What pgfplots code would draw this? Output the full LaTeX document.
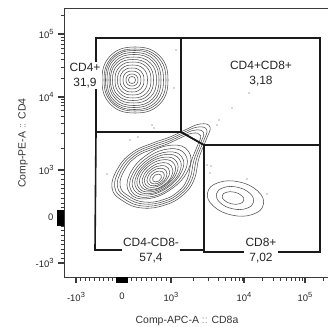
\documentclass[border=0pt]{standalone}
\usepackage{fontspec}
\setmainfont{Liberation Sans}
\usepackage{pgfplots}
\pgfplotsset{compat=1.18}

\definecolor{gateline}{HTML}{1A1A1A}
\definecolor{ctrline}{HTML}{505050}
\definecolor{axisgray}{HTML}{3A3A3A}
\definecolor{dotgray}{HTML}{777777}

% decade label: 10 with a raised exponent
\newcommand\dec[1]{10\raisebox{4.2bp}{\fontsize{7.5}{8}\selectfont #1}}

% Display scale is biexponential: positions below are display units,
% ticks carry the data values (-10^3, 0, 10^3, 10^4, 10^5).
\begin{document}
\begin{tikzpicture}
\path[use as bounding box, clip] (0,0) rectangle (328bp,327bp);
\begin{axis}[
  at={(64bp,50bp)}, anchor=south west,
  x=1bp, y=1bp,
  xmin=64, xmax=332, ymin=50, ymax=319,
  clip=false,
  axis line style={axisgray, line width=0.9bp},
  tick align=outside,
  xtick pos=bottom, ytick pos=left,
  xtick={76,122,171,244,305},
  xticklabels={-\dec{3},0,\dec{3},\dec{4},\dec{5}},
  minor xtick={80.6,85.2,89.8,94.4,99,103.6,108.2,112.8,117.4,126.9,131.8,136.7,141.6,146.5,151.4,156.3,161.2,166.1,193,208,218,225,231,235.5,239,242,262.4,273.1,280.7,286.6,291.5,295.5,299.1,302.2,323.4},
  ytick={64,110,157,230,293},
  yticklabels={-\dec{3},0,\dec{3},\dec{4},\dec{5}},
  minor ytick={68.6,73.2,77.8,82.4,87,91.6,96.2,100.8,105.4,114.7,119.4,124.1,128.8,133.5,138.2,142.9,147.6,152.3,179,194,204,211,217,221.5,225,228,249,260,268,274,279,283,286.5,290,312},
  major tick length=6bp,
  minor tick length=3.5bp,
  major tick style={axisgray, line width=1.4bp},
  minor tick style={axisgray, line width=0.7bp},
  tick label style={font=\fontsize{9.5}{10}\selectfont, text=black!85},
  xticklabel style={yshift=-6bp},
  yticklabel style={xshift=-1bp},
  extra x ticks={117,118,119,120,121,122,123,124,125,126,127},
  extra x tick labels={},
  extra x tick style={major tick length=5.5bp, major tick style={black, line width=1.1bp}},
  extra y ticks={102,103,104,105,106,107,108,109,110,111,112,113,114,115,116},
  extra y tick labels={},
  extra y tick style={major tick length=6.5bp, major tick style={black, line width=1.1bp}},
  ctr/.style={ctrline, line width=0.55bp, smooth cycle, tension=0.75},
  gate/.style={gateline, line width=1.6bp, line join=miter},
]

% ---------- CD4+ population ----------
\addplot[ctr] coordinates {(168,247)(159.4,271.4)(135,280)(110.6,271.4)(102,247)(110.6,222.6)(135,214)(159.4,222.6)};
\addplot[ctr] coordinates {(166,247)(157.9,269.9)(135,278)(112.1,269.9)(104,247)(112.1,224.1)(135,216)(157.9,224.1)};
\addplot[ctr] coordinates {(163.5,247)(156,268.8)(134.5,276.5)(113,268.8)(105.5,247)(113,225.2)(134.5,217.5)(156,225.2)};
\addplot[ctr] coordinates {(161,247)(154,267.4)(134,274.5)(114,267.4)(107,247)(114,226.6)(134,219.5)(154,226.6)};
\addplot[ctr] coordinates {(159,247)(152.5,265.9)(134,272.5)(115.5,265.9)(109,247)(115.5,228.1)(134,221.5)(152.5,228.1)};
\addplot[ctr] coordinates {(156.5,247)(150.5,264)(133.5,270)(116.5,264)(110.5,247)(116.5,230)(133.5,224)(150.5,230)};
\addplot[ctr] coordinates {(153.5,247)(148.2,262.2)(133,267.5)(117.8,262.2)(112.5,247)(117.8,231.8)(133,226.5)(148.2,231.8)};
\addplot[ctr] coordinates {(151,247)(146.3,260.3)(133,265)(119.7,260.3)(115,247)(119.7,233.7)(133,229)(146.3,233.7)};
\addplot[ctr] coordinates {(147.5,247)(143.6,258.1)(132.5,262)(121.4,258.1)(117.5,247)(121.4,235.9)(132.5,232)(143.6,235.9)};
\addplot[ctr] coordinates {(144,247)(140.9,255.9)(132,259)(123.1,255.9)(120,247)(123.1,238.1)(132,235)(140.9,238.1)};
\addplot[ctr] coordinates {(141,247)(138.7,253.7)(132,256)(125.3,253.7)(123,247)(125.3,240.3)(132,238)(138.7,240.3)};
\addplot[ctr] coordinates {(138,247)(136.4,251.4)(132,253)(127.6,251.4)(126,247)(127.6,242.6)(132,241)(136.4,242.6)};
\addplot[ctr] coordinates {(135.5,247)(134.6,249.6)(132,250.5)(129.4,249.6)(128.5,247)(129.4,244.4)(132,243.5)(134.6,244.4)};

% ---------- CD4-CD8- population (outer rings reach towards the double positives) ----------
\addplot[ctr] coordinates {(112,139)(118,159)(133,175)(153,184)(170,190)(185,197)(200,203)(210,200)(206,187)(199,169)(194,147)(183,132)(165,122)(142,119)(123,126)};
\addplot[ctr] coordinates {(114.7,139.8)(120.3,158.6)(134.4,173.6)(153.2,182.1)(169.2,187.7)(183.3,194.3)(197.4,199.9)(206.8,197.1)(203.1,184.9)(196.5,168.0)(191.8,147.3)(181.4,133.2)(164.5,123.8)(142.9,121.0)(125.0,127.6)};
\addplot[ctr] coordinates {(117.4,140.6)(122.7,158.2)(135.9,172.2)(153.5,180.2)(168.4,185.4)(181.6,191.6)(194.8,196.9)(203.6,194.2)(200.1,182.8)(194.0,167.0)(189.6,147.6)(179.9,134.4)(164.0,125.6)(143.8,123.0)(127.1,129.1)};
\addplot[ctr] coordinates {(120.1,141.3)(125.0,157.7)(137.3,170.9)(153.7,178.2)(167.7,183.2)(180.0,188.9)(192.3,193.8)(200.5,191.4)(197.2,180.7)(191.4,165.9)(187.3,147.9)(178.3,135.6)(163.6,127.4)(144.7,124.9)(129.1,130.7)};
\addplot[ctr] coordinates {(188.5,175.7)(171.3,181.8)(146.9,172.2)(129.7,152.6)(129.5,134.3)(146.7,128.2)(171.1,137.8)(188.3,157.4)};
\addplot[ctr] coordinates {(185.1,172.7)(169.6,178.2)(147.6,169.6)(132.0,151.8)(131.9,135.3)(147.4,129.8)(169.4,138.4)(185.0,156.2)};
\addplot[ctr] coordinates {(181.8,170.1)(167.9,175.1)(148.2,167.4)(134.3,151.5)(134.2,136.9)(148.1,131.9)(167.8,139.6)(181.7,155.5)};
\addplot[ctr] coordinates {(179.3,167.9)(166.8,172.6)(149.1,165.7)(136.6,151.4)(136.7,138.1)(149.2,133.4)(166.9,140.3)(179.4,154.6)};
\addplot[ctr] coordinates {(176.3,165.7)(165.1,169.9)(149.5,164.0)(138.5,151.3)(138.7,139.3)(149.9,135.1)(165.5,141.0)(176.5,153.7)};
\addplot[ctr] coordinates {(173.9,163.5)(164.0,167.3)(150.3,162.2)(140.8,151.1)(141.1,140.5)(151.0,136.7)(164.7,141.8)(174.2,152.9)};
\addplot[ctr] coordinates {(171.4,160.8)(162.8,164.3)(151.2,160.0)(143.2,150.5)(143.6,141.2)(152.2,137.7)(163.8,142.0)(171.8,151.5)};
\addplot[ctr] coordinates {(168.5,158.5)(161.4,161.4)(151.8,157.9)(145.2,150.0)(145.5,142.5)(152.6,139.6)(162.2,143.1)(168.8,151.0)};
\addplot[ctr] coordinates {(166.0,156.3)(160.4,158.8)(152.7,156.1)(147.6,149.8)(148.0,143.7)(153.6,141.2)(161.3,143.9)(166.4,150.2)};
\addplot[ctr] coordinates {(163.6,154.1)(159.4,155.9)(153.8,154.0)(150.2,149.5)(150.4,144.9)(154.6,143.1)(160.2,145.0)(163.8,149.5)};
\addplot[ctr] coordinates {(161.1,151.9)(158.5,153.0)(155.0,151.9)(152.7,149.0)(152.9,146.1)(155.5,145.0)(159.0,146.1)(161.3,149.0)};

% ---------- CD8+ population ----------
\addplot[ctr] coordinates {(263.4,122.6)(257.7,136.0)(239.0,145.1)(218.3,144.4)(207.6,134.4)(213.3,121.0)(232.0,111.9)(252.7,112.6)};
\addplot[ctr] coordinates {(253.6,125.0)(249.7,133.8)(237.3,139.8)(223.5,139.4)(216.4,133.0)(220.3,124.2)(232.7,118.2)(246.5,118.6)};
\addplot[ctr] coordinates {(243.8,126.7)(241.5,131.5)(234.2,134.9)(226.3,134.7)(222.2,131.3)(224.5,126.5)(231.8,123.1)(239.7,123.3)};

% ---------- outlying events ----------
\addplot[only marks, mark=*, mark size=0.45bp, dotgray] coordinates {
  (138,190)(154,199)(125,277)(176,277)(174,239)(249,234)(232,219)(219,207)(217,202)
  (211,161)(247,148)(267,133)(107,153)(207,162)(210,154)(130,187)(152,202)};

% ---------- gates ----------
\addplot[gate] coordinates {(96,289)(181,289)(181,195)(96,195)} -- cycle;
\addplot[gate] coordinates {(181,289)(320,289)(320,182)(204,182)(181,195)} -- cycle;
\addplot[gate] coordinates {(96,195)(181,195)(204,182)(204,77)(95,77)} -- cycle;
\addplot[gate] coordinates {(204,182)(320,182)(320,75)(204,75)} -- cycle;

% ---------- gate names and frequencies ----------
\begin{scope}[every node/.style={fill=white, inner sep=1.2bp, align=center,
    font=\fontsize{12}{15}\selectfont, text=black!85}]
\node at (axis cs:85,251.5) {CD4+\\31,9};
\node at (axis cs:261,253.5) {CD4+CD8+\\3,18};
\node at (axis cs:151,76.5) {CD4-CD8-\\57,4};
\node at (axis cs:261,76.5) {CD8+\\7,02};
\end{scope}

% ---------- axis titles ----------
\node[font=\fontsize{10.5}{12}\selectfont, text=black!80] at (axis cs:187,6)
  {Comp-APC-A \textcolor{black!45}{::} CD8a};
\node[font=\fontsize{10.5}{12}\selectfont, text=black!80, rotate=90] at (axis cs:23,184)
  {Comp-PE-A \textcolor{black!45}{::} CD4};
\end{axis}
\end{tikzpicture}
\end{document}
